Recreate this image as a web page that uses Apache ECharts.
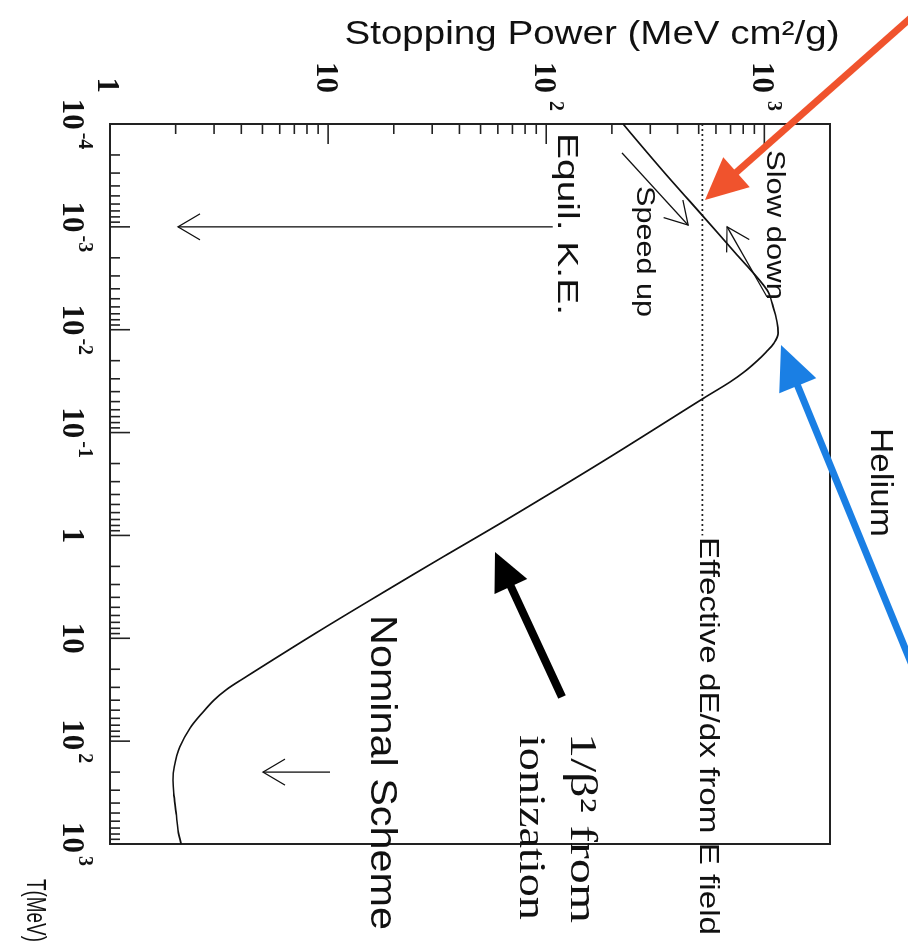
<!DOCTYPE html>
<html>
<head>
<meta charset="utf-8">
<script src="https://cdn.jsdelivr.net/npm/echarts@6/dist/echarts.min.js"></script>
<style>
html,body{margin:0;padding:0;background:#fff;overflow:hidden;width:908px;height:945px;}
#chart{position:absolute;left:0;top:0;width:945px;height:908px;transform-origin:0 0;transform:translate(908px,0) rotate(90deg);}
</style>
</head>
<body>
<div id="chart"></div>
<script>
// ---------------- data ----------------
// Kinetic energy T (MeV) and stopping power (MeV cm^2/g)
const energyMeV = [1e-4, 2.8e-4, 7.3e-4, 1.88e-3, 4.1e-3, 6.0e-3, 8.4e-3, 1.08e-2, 1.35e-2, 1.65e-2,
  2.01e-2, 2.58e-2, 3.22e-2, 4.61e-2, 0.185, 0.708, 1.62, 3.63, 8.88,
  25.4, 31.8, 39.8, 52.1, 74.5, 114, 178, 239, 319, 499, 731, 1000];
const stoppingPower = [225, 340, 507, 750, 1028, 1097, 1143, 1156, 1107, 1018,
  926, 807, 697, 529, 186, 65.4, 33.6, 17.7, 8.80,
  3.99, 3.40, 3.00, 2.67, 2.33, 2.09, 1.97, 1.945, 1.96, 2.01, 2.05, 2.12];

// effective dE/dx from E field (dotted line)
const fieldEnergyRange = [1e-4, 1];
const fieldStoppingPower = 520;

// annotation arrows inside the plot: [T tail, S tail, T tip, S tip]
const equilArrow = [1e-3, 107, 1e-3, 2.05];
const nominalArrow = [200, 10.2, 200, 5.03];
const speedUpArrow = [1.91e-4, 222.6, 9.6e-4, 447];
const slowDownArrow = [4.8e-3, 1028, 1e-3, 675];

// axes
const energyRange = [1e-4, 1e3];
const stoppingRange = [1, 2000];
const energyTicks = [1e-4, 1e-3, 1e-2, 1e-1, 1, 10, 100, 1000];
const energyTickBase = ['10', '10', '10', '10', '1', '10', '10', '10'];
const energyTickExp = ['-4', '-3', '-2', '-1', '', '', '2', '3'];
const stoppingTicks = [1, 10, 100, 1000];
const stoppingTickBase = ['1', '10', '10', '10'];
const stoppingTickExp = ['', '', '2', '3'];
const minorMultipliers = [2, 3, 4, 5, 6, 7, 8, 9];

// ---------------- chart ----------------
const W = 945, H = 908; // inner (unrotated) canvas
const SANS = '"Liberation Sans", Arial, Helvetica, sans-serif';
const SERIF = '"Liberation Serif", "Times New Roman", serif';

const chart = echarts.init(document.getElementById('chart'), null, {renderer: 'canvas', width: W, height: H});

function findTick(ticks, v) {
  const lv = Math.log10(v);
  return ticks.findIndex(t => Math.abs(Math.log10(t) - lv) < 1e-6);
}

const richX = {
  b: {fontFamily: SERIF, fontWeight: 'bold', fontSize: 31, lineHeight: 38, verticalAlign: 'bottom', color: '#111'},
  s: {fontFamily: SERIF, fontWeight: 'bold', fontSize: 20, lineHeight: 20, verticalAlign: 'top', padding: [0, 0, 0, 3], color: '#111'}
};
const richY = {
  b: {fontFamily: SERIF, fontWeight: 'bold', fontSize: 31, lineHeight: 38, verticalAlign: 'bottom', color: '#111'},
  s: {fontFamily: SERIF, fontWeight: 'bold', fontSize: 20, lineHeight: 20, verticalAlign: 'top', width: 18, align: 'left', padding: [0, 0, 0, 4], color: '#111'}
};

// tick marks (drawn through the axes' scales)
const tickItems = [];
energyTicks.forEach((t, i) => {
  tickItems.push([t, stoppingRange[0], 0, 1]);
  if (i < energyTicks.length - 1) minorMultipliers.forEach(m => tickItems.push([t * m, stoppingRange[0], 0, 0]));
});
stoppingTicks.forEach(s => {
  tickItems.push([energyRange[0], s, 1, 1]);
  minorMultipliers.forEach(m => { if (s * m < stoppingRange[1]) tickItems.push([energyRange[0], s * m, 1, 0]); });
});

// text measuring for stretched labels
const mctx = document.createElement('canvas').getContext('2d');
function textWidth(text, font) { mctx.font = font; return mctx.measureText(text).width; }

// u = screen y, v = 908 - screen x
const notes = [
  {text: 'Stopping Power (MeV cm²/g)', u: 34.5, v: 316, size: 34, fam: SANS, len: 495, rot: true},
  {text: 'Helium', u: 428, v: 28, size: 32, fam: SANS, len: 109},
  {text: 'Effective dE/dx from E field', u: 537, v: 200.5, size: 28, fam: SANS, len: 398},
  {text: 'Slow down', u: 150, v: 134.5, size: 25, fam: SANS, len: 150},
  {text: 'Speed up', u: 186, v: 264.5, size: 25, fam: SANS, len: 131},
  {text: 'Equil. K.E.', u: 133, v: 341.5, size: 29, fam: SANS, len: 182},
  {text: 'Nominal Scheme', u: 615, v: 527, size: 37, fam: SANS, len: 315},
  {text: 'T(MeV)', u: 879, v: 874, size: 27, fam: SANS, len: 63},
  {text: '1/β² from', u: 733, v: 327, size: 37, fam: SERIF, len: 190},
  {text: 'ionization', u: 735, v: 378, size: 37, fam: SERIF, len: 185}
];

const graphics = notes.map(n => {
  const font = n.size + 'px ' + n.fam;
  const sx = n.len / textWidth(n.text, font);
  return {
    type: 'text', x: n.u, y: n.v, scaleX: sx, rotation: n.rot ? Math.PI / 2 : 0, z: 50, silent: true,
    style: {text: n.text, x: 0, y: 0, font: font, fill: '#111', align: n.rot ? 'center' : 'left', verticalAlign: 'middle'}
  };
});

function toInner(p) { return [p[1], H - p[0]]; }
function fatArrow(tailS, tipS, color, shaftW, headL, headHW) {
  const a = toInner(tailS), b = toInner(tipS);
  const dx = b[0] - a[0], dy = b[1] - a[1], L = Math.hypot(dx, dy), ux = dx / L, uy = dy / L, nx = -uy, ny = ux;
  const base = [b[0] - ux * headL, b[1] - uy * headL];
  return [
    {type: 'line', z: 60, silent: true, shape: {x1: a[0], y1: a[1], x2: base[0] + ux * 3, y2: base[1] + uy * 3}, style: {stroke: color, lineWidth: shaftW}},
    {type: 'polygon', z: 60, silent: true, shape: {points: [b, [base[0] + nx * headHW, base[1] + ny * headHW], [base[0] - nx * headHW, base[1] - ny * headHW]]}, style: {fill: color}}
  ];
}
graphics.push(...fatArrow([914, 15], [705, 200], '#f0532d', 7, 42, 20));
graphics.push(...fatArrow([914, 670], [781, 345], '#1a7fe4', 7, 44, 20));
graphics.push(...fatArrow([562, 697], [495, 552], '#000000', 8, 38, 18));

const option = {
  backgroundColor: '#ffffff',
  animation: false,
  grid: {left: 124, top: 78, width: 720, height: 720, show: true, borderColor: '#222', borderWidth: 2, backgroundColor: 'transparent', containLabel: false, outerBoundsMode: 'none'},
  xAxis: {
    type: 'log', logBase: 10, min: energyRange[0], max: energyRange[1], splitNumber: 10,
    axisLine: {show: false}, axisTick: {show: false}, splitLine: {show: false}, minorTick: {show: false},
    axisLabel: {
      margin: 16, rich: richX,
      formatter: v => { const i = findTick(energyTicks, v); if (i < 0) return ''; return energyTickExp[i] ? '{b|' + energyTickBase[i] + '}{s|' + energyTickExp[i] + '}' : '{b|' + energyTickBase[i] + '}'; }
    }
  },
  yAxis: {
    type: 'log', logBase: 10, min: stoppingRange[0], max: stoppingRange[1], splitNumber: 10,
    axisLine: {show: false}, axisTick: {show: false}, splitLine: {show: false}, minorTick: {show: false},
    axisLabel: {
      margin: 9, rich: richY,
      formatter: v => { const i = findTick(stoppingTicks, v); if (i < 0) return ''; return '{b|' + stoppingTickBase[i] + '}{s|' + (stoppingTickExp[i] || ' ') + '}'; }
    }
  },
  series: [
    {
      name: 'Stopping power', type: 'line', data: energyMeV.map((t, i) => [t, stoppingPower[i]]),
      showSymbol: false, smooth: 0.35, lineStyle: {color: '#111', width: 1.7}, z: 4, silent: true
    },
    {
      name: 'Effective dE/dx from E field', type: 'line',
      data: [[fieldEnergyRange[0], fieldStoppingPower], [fieldEnergyRange[1], fieldStoppingPower]],
      showSymbol: false, lineStyle: {color: '#222', width: 1.6, type: [2, 3]}, z: 3, silent: true
    },
    {
      name: 'ticks', type: 'custom', coordinateSystem: 'cartesian2d', silent: true, z: 5,
      dimensions: ['T', 'S', 'kind', 'major'], encode: {x: 0, y: 1},
      data: tickItems,
      renderItem: (params, api) => {
        const p = api.coord([api.value(0), api.value(1)]);
        const len = api.value(3) ? 20 : 10;
        const shape = api.value(2) === 0
          ? {x1: p[0], y1: p[1], x2: p[0], y2: p[1] - len}
          : {x1: p[0], y1: p[1], x2: p[0] + len, y2: p[1]};
        return {type: 'line', shape: shape, style: {stroke: '#222', lineWidth: 1.6}};
      }
    },
    {
      name: 'arrows', type: 'custom', coordinateSystem: 'cartesian2d', silent: true, z: 6,
      dimensions: ['T0', 'S0', 'T1', 'S1'], encode: {x: [0, 2], y: [1, 3]},
      data: [equilArrow, nominalArrow, speedUpArrow, slowDownArrow],
      renderItem: (params, api) => {
        const a = api.coord([api.value(0), api.value(1)]);
        const b = api.coord([api.value(2), api.value(3)]);
        const dx = b[0] - a[0], dy = b[1] - a[1], L = Math.hypot(dx, dy), ux = dx / L, uy = dy / L;
        const hl = 22, hw = 13;
        const p1 = [b[0] - ux * hl - uy * hw, b[1] - uy * hl + ux * hw];
        const p2 = [b[0] - ux * hl + uy * hw, b[1] - uy * hl - ux * hw];
        return {type: 'group', children: [
          {type: 'line', shape: {x1: a[0], y1: a[1], x2: b[0], y2: b[1]}, style: {stroke: '#111', lineWidth: 1.3}},
          {type: 'polyline', shape: {points: [p1, b, p2]}, style: {stroke: '#111', lineWidth: 1.3, fill: null}}
        ]};
      }
    }
  ],
  graphic: graphics
};
chart.setOption(option);
</script>
</body>
</html>
